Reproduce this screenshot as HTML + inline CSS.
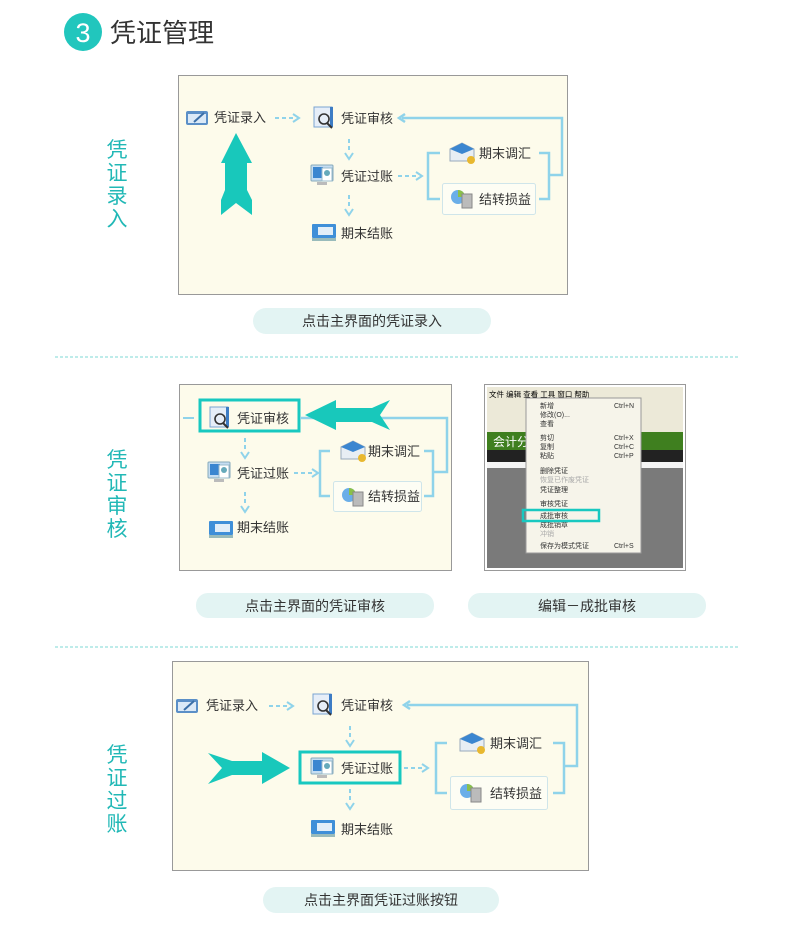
<!DOCTYPE html>
<html><head><meta charset="utf-8"><style>
html,body{margin:0;padding:0;background:#fff;}
svg text{font-family:"Liberation Sans","Noto Sans CJK SC",sans-serif;}
</style></head><body>
<svg width="790" height="932" viewBox="0 0 790 932" xmlns="http://www.w3.org/2000/svg">
<defs>
<g id="i1"><rect x="0" y="2" width="22" height="14" rx="2" fill="#5b8fc7"/><rect x="2" y="5" width="18" height="9" fill="#dbe9f7"/><line x1="8" y1="13" x2="18" y2="4" stroke="#3b6fa7" stroke-width="2"/></g>
<g id="i2"><rect x="0" y="0" width="18" height="20" fill="#e6eef8" stroke="#7aa4d2"/><rect x="16" y="0" width="3" height="20" fill="#3d7cc4"/><circle cx="10" cy="12" r="5" fill="none" stroke="#333" stroke-width="1.6"/><line x1="13" y1="16" x2="18" y2="21" stroke="#333" stroke-width="2"/></g>
<g id="i3"><rect x="0" y="0" width="22" height="16" rx="1" fill="#c5ddf2" stroke="#8ab"/><rect x="2" y="2" width="10" height="11" fill="#3b86d0"/><rect x="11" y="3" width="10" height="13" fill="#fff" stroke="#9bc"/><circle cx="16" cy="8" r="3" fill="#6ab"/><rect x="6" y="17" width="10" height="3" fill="#bbb"/></g>
<g id="i4"><rect x="0" y="0" width="24" height="14" rx="1" fill="#3f8fd8"/><rect x="6" y="3" width="15" height="8" fill="#e2eef8"/><rect x="0" y="14" width="24" height="3" fill="#9bb"/></g>
<g id="i5"><path d="M0 6 L12 0 L24 6 L24 18 L0 18 Z" fill="#e8eef4" stroke="#9ab"/><path d="M0 6 L12 0 L24 6 L12 11 Z" fill="#3b86d0"/><circle cx="21" cy="17" r="4" fill="#e8b830"/></g>
<g id="i6"><circle cx="8" cy="9" r="7" fill="#6aaee8"/><path d="M8 9 L8 2 A7 7 0 0 1 15 9 Z" fill="#8ac04a"/><rect x="12" y="6" width="10" height="14" fill="#bbb" stroke="#888"/></g>
<g id="dr"><line x1="0" y1="0" x2="18" y2="0" stroke="#8fd3ea" stroke-width="2" stroke-dasharray="4,3"/><path d="M18 -4 L24 0 L18 4" fill="none" stroke="#8fd3ea" stroke-width="2"/></g>
<g id="dd"><line x1="0" y1="0" x2="0" y2="14" stroke="#8fd3ea" stroke-width="2" stroke-dasharray="4,3"/><path d="M-4 14 L0 20 L4 14" fill="none" stroke="#8fd3ea" stroke-width="2"/></g>
</defs>

<circle cx="83" cy="32" r="19" fill="#21c6bd"/>
<text x="83" y="42" font-size="27" fill="#fff" text-anchor="middle">3</text>
<text x="110" y="42" font-size="26" fill="#333">凭证管理</text>

<g fill="#21b8b6" font-size="21" text-anchor="middle">
<text x="117" y="157">凭</text><text x="117" y="180">证</text><text x="117" y="203">录</text><text x="117" y="226">入</text>
<text x="117" y="467">凭</text><text x="117" y="490">证</text><text x="117" y="513">审</text><text x="117" y="536">核</text>
<text x="117" y="762">凭</text><text x="117" y="785">证</text><text x="117" y="808">过</text><text x="117" y="831">账</text>
</g>

<line x1="55" y1="357" x2="740" y2="357" stroke="#7ed8d6" stroke-dasharray="3,2"/>
<line x1="55" y1="647" x2="740" y2="647" stroke="#7ed8d6" stroke-dasharray="3,2"/>

<g font-size="13" fill="#333">
<rect x="178.5" y="75.5" width="389" height="219" fill="#fdfbeb" stroke="#999"/>
<use href="#i1" x="186" y="109"/><text x="214" y="122">凭证录入</text>
<use href="#dr" x="275" y="118"/>
<use href="#i2" x="314" y="107"/><text x="341" y="123">凭证审核</text>
<use href="#dd" x="349" y="139"/>
<use href="#i3" x="311" y="165"/><text x="341" y="181">凭证过账</text>
<use href="#dd" x="349" y="195"/>
<use href="#i4" x="312" y="224"/><text x="341" y="238">期末结账</text>
<use href="#dr" x="398" y="176"/>
<path d="M440 153 H428 V199 H440" fill="none" stroke="#8fd3ea" stroke-width="2.5"/>
<use href="#i5" x="450" y="143"/><text x="479" y="158">期末调汇</text>
<rect x="442.5" y="183.5" width="93" height="31" rx="2" fill="#fdfdf4" stroke="#cfe5ea"/>
<use href="#i6" x="450" y="188"/><text x="479" y="204">结转损益</text>
<path d="M539 153 H549 V199 H539 M549 175 H562 V118 H402" fill="none" stroke="#8fd3ea" stroke-width="2.5"/>
<path d="M405 114 L399 118 L405 122" fill="none" stroke="#8fd3ea" stroke-width="2.5"/>
<path d="M236 133 L252 163 L247 163 L247 190 L252 200 L252 215 L236 203 L221 215 L221 200 L225 190 L225 163 L221 163 Z" fill="#18c8bb"/>

<rect x="179.5" y="384.5" width="272" height="186" fill="#fdfbeb" stroke="#999"/>
<line x1="183" y1="418" x2="194" y2="418" stroke="#8fd3ea" stroke-width="2"/>
<use href="#i2" x="210" y="407"/><text x="237" y="423">凭证审核</text>
<rect x="200" y="400" width="99" height="31" fill="none" stroke="#18c8c0" stroke-width="3"/>
<use href="#dd" x="245" y="438"/>
<use href="#i3" x="208" y="462"/><text x="237" y="478">凭证过账</text>
<use href="#dd" x="245" y="492"/>
<use href="#i4" x="209" y="521"/><text x="237" y="532">期末结账</text>
<use href="#dr" x="294" y="473"/>
<path d="M330 451 H320 V496 H330" fill="none" stroke="#8fd3ea" stroke-width="2.5"/>
<use href="#i5" x="341" y="441"/><text x="368" y="456">期末调汇</text>
<rect x="333.5" y="481.5" width="88" height="30" rx="2" fill="#fdfdf4" stroke="#cfe5ea"/>
<use href="#i6" x="341" y="486"/><text x="368" y="501">结转损益</text>
<path d="M424 451 H433 V496 H424 M433 472 H447 V418 H300" fill="none" stroke="#8fd3ea" stroke-width="2.5"/>
<path d="M305 415 L336 400 L336 408 L372 408 L390 400 L380 415 L390 430 L372 422 L336 422 L336 430 Z" fill="#18c8bb"/>

<rect x="484.5" y="384.5" width="201" height="186" fill="#fff" stroke="#999"/>
<rect x="487" y="387" width="196" height="181" fill="#7a7a7a"/>
<rect x="487" y="387" width="196" height="13" fill="#ece9d8"/>
<rect x="487" y="400" width="196" height="32" fill="#ece9d8"/>
<rect x="487" y="432" width="196" height="18" fill="#3f7f1f"/>
<text x="493" y="446" font-size="12" fill="#fff">会计分</text>
<rect x="487" y="450" width="196" height="12" fill="#222"/>
<rect x="487" y="462" width="196" height="6" fill="#f4f4f4"/>
<text x="489" y="397" font-size="7.5" fill="#000">文件 编辑 查看 工具 窗口 帮助</text>
<rect x="526" y="398" width="115" height="155" fill="#f6f4ea" stroke="#999"/>
<g font-size="7" fill="#333">
<text x="540" y="408">新增</text><text x="614" y="408">Ctrl+N</text>
<text x="540" y="417">修改(O)...</text><text x="540" y="426">查看</text>
<text x="540" y="440">剪切</text><text x="614" y="440">Ctrl+X</text>
<text x="540" y="449">复制</text><text x="614" y="449">Ctrl+C</text>
<text x="540" y="458">粘贴</text><text x="614" y="458">Ctrl+P</text>
<text x="540" y="473">删除凭证</text><text x="540" y="482" fill="#aaa">恢复已作废凭证</text>
<text x="540" y="492">凭证整理</text><text x="540" y="506">审核凭证</text>
<text x="540" y="518">成批审核</text><text x="540" y="527">成批销章</text>
<text x="540" y="536" fill="#aaa">冲销</text><text x="540" y="548">保存为模式凭证</text><text x="614" y="548">Ctrl+S</text>
</g>
<rect x="523" y="510" width="76" height="11" fill="none" stroke="#18c8c0" stroke-width="2.5"/>

<rect x="172.5" y="661.5" width="416" height="209" fill="#fdfbeb" stroke="#999"/>
<use href="#i1" x="176" y="697"/><text x="206" y="710">凭证录入</text>
<use href="#dr" x="269" y="706"/>
<use href="#i2" x="313" y="694"/><text x="341" y="710">凭证审核</text>
<use href="#dd" x="350" y="726"/>
<use href="#i3" x="311" y="758"/><text x="341" y="773">凭证过账</text>
<rect x="300" y="752" width="100" height="31" fill="none" stroke="#18c8c0" stroke-width="3"/>
<use href="#dd" x="350" y="789"/>
<use href="#i4" x="311" y="820"/><text x="341" y="834">期末结账</text>
<use href="#dr" x="404" y="768"/>
<path d="M447 743 H436 V793 H447" fill="none" stroke="#8fd3ea" stroke-width="2.5"/>
<use href="#i5" x="460" y="733"/><text x="490" y="748">期末调汇</text>
<rect x="450.5" y="776.5" width="97" height="33" rx="2" fill="#fdfdf4" stroke="#cfe5ea"/>
<use href="#i6" x="459" y="782"/><text x="490" y="798">结转损益</text>
<path d="M553 743 H564 V793 H553 M564 766 H577 V705 H407" fill="none" stroke="#8fd3ea" stroke-width="2.5"/>
<path d="M410 701 L404 705 L410 709" fill="none" stroke="#8fd3ea" stroke-width="2.5"/>
<path d="M208 753 L232 761 L262 761 L262 752 L290 768 L262 784 L262 775 L232 775 L208 784 L222 768 Z" fill="#18c8bb"/>

<rect x="253" y="308" width="238" height="26" rx="13" fill="#e3f4f3"/>
<text x="372" y="326" text-anchor="middle" font-size="14">点击主界面的凭证录入</text>
<rect x="196" y="593" width="238" height="25" rx="12" fill="#e3f4f3"/>
<text x="315" y="611" text-anchor="middle" font-size="14">点击主界面的凭证审核</text>
<rect x="468" y="593" width="238" height="25" rx="12" fill="#e3f4f3"/>
<text x="587" y="611" text-anchor="middle" font-size="14">编辑－成批审核</text>
<rect x="263" y="887" width="236" height="26" rx="13" fill="#e3f4f3"/>
<text x="381" y="905" text-anchor="middle" font-size="14">点击主界面凭证过账按钮</text>
</g>
</svg>
</body></html>
